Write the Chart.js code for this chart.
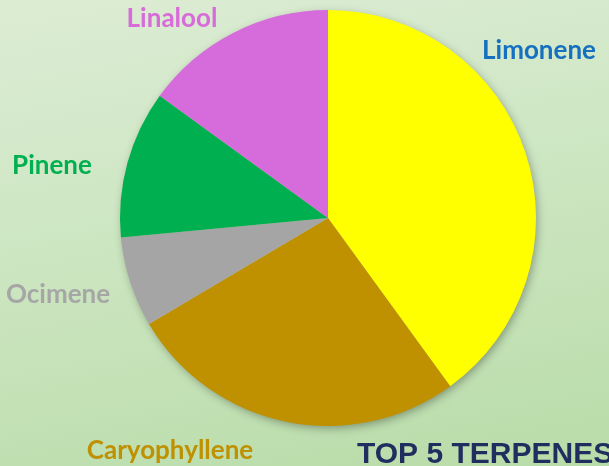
<!DOCTYPE html>
<html>
<head>
<meta charset="utf-8">
<script src="https://cdn.jsdelivr.net/npm/chart.js@4"></script>
<style>
  html, body { margin: 0; padding: 0; }
  body {
    width: 609px; height: 466px; overflow: hidden;
    background: linear-gradient(170deg, #dcecd4 0%, #cde6c2 45%, #b8dca8 100%);
  }
  #wrap { position: relative; width: 609px; height: 466px; }
</style>
</head>
<body>
<div id="wrap"><canvas id="pie" width="609" height="466"></canvas></div>
<script>
const LABELS = ['Limonene', 'Caryophyllene', 'Ocimene', 'Pinene', 'Linalool'];
const VALUES = [40, 26.5, 7, 11.5, 15];
const COLORS = ['#ffff00', '#bf9000', '#a5a5a5', '#00b050', '#d66bdb'];
const TEXT_COLORS = ['#1570c0', '#bf9000', '#a6a6a6', '#00b050', '#d86ad9'];
const TITLE = 'TOP 5 TERPENES';

const LABEL_FONT = "bold 26px Lato, 'Open Sans', sans-serif";
// label anchor points (text centre)
const LABEL_POS = [[539, 51], [170, 451], [58, 295], [52, 166], [172, 19]];

const pieShadow = {
    id: 'pieShadow',
    beforeDatasetsDraw(chart) {
        const arc = chart.getDatasetMeta(0).data[0];
        if (!arc) return;
        const c = chart.ctx;
        c.save();
        c.shadowColor = 'rgba(0,0,0,0.35)';
        c.shadowBlur = 10;
        c.shadowOffsetX = 2;
        c.shadowOffsetY = 3;
        c.fillStyle = '#c8c8a0';
        c.beginPath();
        c.arc(arc.x, arc.y, arc.outerRadius - 1, 0, Math.PI * 2);
        c.fill();
        c.restore();
    }
};

const outerLabels = {
    id: 'outerLabels',
    afterDraw(chart) {
        const c = chart.ctx;
        c.save();
        c.font = LABEL_FONT;
        c.textAlign = 'center';
        c.textBaseline = 'middle';
        LABELS.forEach((l, i) => {
            c.fillStyle = TEXT_COLORS[i];
            c.fillText(l, LABEL_POS[i][0], LABEL_POS[i][1]);
        });
        c.font = "bold 30px 'Liberation Sans', Arial, sans-serif";
        c.fillStyle = '#1f2e5e';
        c.textAlign = 'left';
        c.textBaseline = 'alphabetic';
        c.fillText(TITLE, 357, 463);
        c.restore();
    }
};

new Chart(document.getElementById('pie'), {
    type: 'pie',
    data: {
        labels: LABELS,
        datasets: [{ data: VALUES, backgroundColor: COLORS, borderWidth: 0, hoverOffset: 0 }]
    },
    options: {
        responsive: false,
        animation: false,
        layout: { padding: { top: 10, bottom: 40, left: 120, right: 73 } },
        plugins: { legend: { display: false }, tooltip: { enabled: false } }
    },
    plugins: [pieShadow, outerLabels]
});
</script>
</body>
</html>
